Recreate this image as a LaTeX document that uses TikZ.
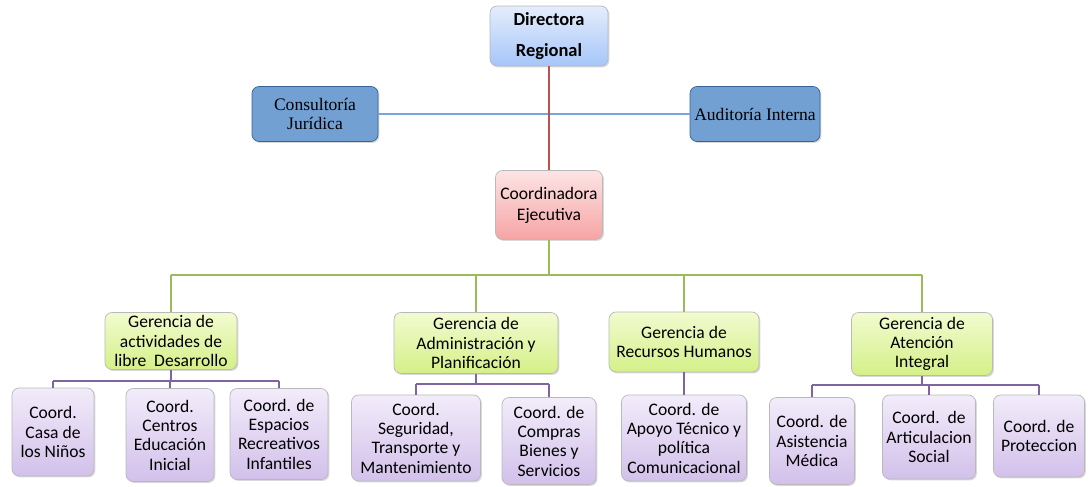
\documentclass[tikz,border=0pt]{standalone}
\usepackage{fontspec}
\setmainfont{Carlito}
\newfontfamily\timesfont{Liberation Serif}
\usetikzlibrary{shadows}

\definecolor{dirtop}{RGB}{228,237,252}
\definecolor{dirbot}{RGB}{166,198,248}
\definecolor{asefill}{RGB}{114,160,210}
\definecolor{asedraw}{RGB}{56,98,158}
\definecolor{cetop}{RGB}{253,228,228}
\definecolor{cebot}{RGB}{246,164,164}
\definecolor{getop}{RGB}{242,251,208}
\definecolor{gebot}{RGB}{212,240,136}
\definecolor{cotop}{RGB}{242,236,250}
\definecolor{cobot}{RGB}{210,192,234}
\definecolor{linered}{RGB}{192,80,77}
\definecolor{lineblue}{RGB}{120,166,216}
\definecolor{linegreen}{RGB}{155,187,89}
\definecolor{linepurple}{RGB}{128,100,162}

\tikzset{
  wh/.style 2 args={minimum width=#1*0.02cm, minimum height=#2*0.02cm},
  box/.style={rounded corners=4pt, draw=gray!55, align=center, inner sep=1pt,
    drop shadow={opacity=0.3,shadow xshift=0.8pt,shadow yshift=-0.8pt}},
  dirbox/.style={box, top color=dirtop, bottom color=dirbot,
    font=\fontsize{10.5}{18}\selectfont\bfseries},
  asebox/.style={box, fill=asefill, draw=asedraw, font=\timesfont\fontsize{10}{11}\selectfont},
  cebox/.style={box, top color=cetop, bottom color=cebot, font=\fontsize{10}{12}\selectfont},
  gebox/.style={box, top color=getop, bottom color=gebot, font=\fontsize{10}{11}\selectfont},
  cobox/.style={box, top color=cotop, bottom color=cobot, font=\fontsize{10}{11}\selectfont},
  redline/.style={draw=linered, line width=1.2pt},
  blueline/.style={draw=lineblue, line width=0.9pt},
  greenline/.style={draw=linegreen, line width=1.4pt},
  purpleline/.style={draw=linepurple, line width=1.4pt}
}

\begin{document}
\begin{tikzpicture}[x=0.02cm,y=-0.02cm]
\useasboundingbox (0,0) rectangle (1090,487);

% direccion
\node[dirbox, wh={118}{60}] (dir) at (549,36) {Directora\\Regional};
\node[asebox, wh={126}{55}] (cj) at (315,114) {Consultoría\\Jurídica};
\node[asebox, wh={130}{55}] (ai) at (755,114) {Auditoría Interna};
\node[cebox, wh={107}{69}] (ce) at (549,205) {Coordinadora\\Ejecutiva};

% gerencias
\node[gebox, wh={132}{57}] (g1) at (171,341) {Gerencia de\\actividades de\\libre\ \ Desarrollo};
\node[gebox, wh={164}{61}] (g2) at (476,343) {Gerencia de\\Administración y\\Planificación};
\node[gebox, wh={150}{60}] (g3) at (684,342) {Gerencia de\\Recursos Humanos};
\node[gebox, wh={141}{63}] (g4) at (922,344) {Gerencia de\\Atención\\Integral};

% coordinaciones
\node[cobox, wh={82}{88}] (c11) at (53,432) {Coord.\\Casa de\\los Niños};
\node[cobox, wh={88}{93}] (c12) at (170,435) {Coord.\\Centros\\Educación\\Inicial};
\node[cobox, wh={98}{91}] (c13) at (279,434) {Coord. de\\Espacios\\Recreativos\\Infantiles};
\node[cobox, wh={129}{86}] (c21) at (416,438) {Coord.\\Seguridad,\\Transporte y\\Mantenimiento};
\node[cobox, wh={94}{87}] (c22) at (549,441) {Coord. de\\Compras\\Bienes y\\Servicios};
\node[cobox, wh={125}{86}] (c31) at (684,438) {Coord. de\\Apoyo Técnico y\\política\\Comunicacional};
\node[cobox, wh={85}{87}] (c41) at (812,441) {Coord. de\\Asistencia\\Médica};
\node[cobox, wh={93}{84}] (c42) at (929,437) {Coord.\ \ de\\Articulacion\\Social};
\node[cobox, wh={91}{82}] (c43) at (1039,436) {Coord. de\\Proteccion};

\coordinate (gbus) at (549,275);
\coordinate (p1) at (171,381);
\coordinate (p2) at (476,384);
\coordinate (p4) at (922,385);

\draw[blueline] (cj.east) -- (ai.west);
\draw[redline] (dir.south) -- (ce.north);

\draw[greenline] (ce.south) -- (gbus);
\draw[greenline] (gbus -| g1.north) -- (gbus -| g4.north);
\foreach \g in {g1,g2,g3,g4}
  \draw[greenline] (gbus -| \g.north) -- (\g.north);

\draw[purpleline] (g1.south) -- (p1);
\draw[purpleline] (p1 -| c11.north) -- (p1 -| c13.north);
\foreach \c in {c11,c12,c13}
  \draw[purpleline] (p1 -| \c.north) -- (\c.north);

\draw[purpleline] (g2.south) -- (p2);
\draw[purpleline] (p2 -| c21.north) -- (p2 -| c22.north);
\foreach \c in {c21,c22}
  \draw[purpleline] (p2 -| \c.north) -- (\c.north);

\draw[purpleline] (g3.south) -- (c31.north);

\draw[purpleline] (g4.south) -- (p4);
\draw[purpleline] (p4 -| c41.north) -- (p4 -| c43.north);
\foreach \c in {c41,c42,c43}
  \draw[purpleline] (p4 -| \c.north) -- (\c.north);

\end{tikzpicture}
\end{document}
